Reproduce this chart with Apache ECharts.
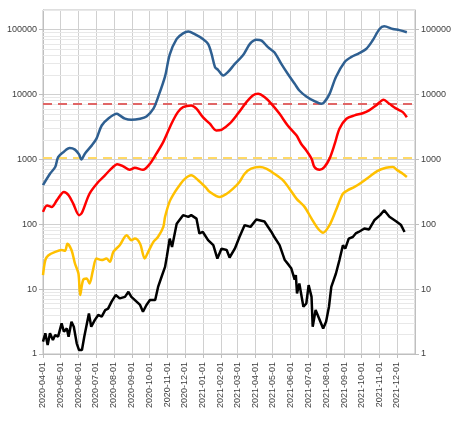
<!DOCTYPE html>
<html>
<head>
<meta charset="utf-8">
<script src="https://cdn.jsdelivr.net/npm/echarts@6/dist/echarts.min.js"></script>
<style>
  html, body { margin: 0; padding: 0; background: #fff; }
  #chart { width: 460px; height: 442px; }
</style>
</head>
<body>
<div id="chart"></div>
<script>
// x range and reference levels
const xMin = '2020-04-01';
const xMax = '2022-01-01';
const redLevel = 7300;
const yellowLevel = 1050;
const decades = [1, 10, 100, 1000, 10000, 100000];
const minorSteps = [2, 3, 4, 5, 6, 7, 8, 9];

// series values
const blue = [
  ['2020-04-01', 400], ['2020-04-13', 600], ['2020-04-22', 760], ['2020-04-27', 1080],
  ['2020-05-06', 1290], ['2020-05-17', 1490], ['2020-05-26', 1410], ['2020-06-02', 1190],
  ['2020-06-06', 990], ['2020-06-12', 1220], ['2020-06-24', 1640], ['2020-07-02', 2080],
  ['2020-07-11', 3320], ['2020-07-22', 4220], ['2020-08-06', 5020], ['2020-08-11', 4750],
  ['2020-08-20', 4230], ['2020-08-31', 4070], ['2020-09-15', 4230], ['2020-09-26', 4580],
  ['2020-10-08', 6030], ['2020-10-16', 9100], ['2020-10-28', 19000], ['2020-11-05', 41000],
  ['2020-11-17', 71600], ['2020-11-28', 87400], ['2020-12-07', 93000], ['2020-12-18', 85000],
  ['2021-01-01', 71600], ['2021-01-10', 60000], ['2021-01-16', 42300], ['2021-01-22', 26300],
  ['2021-01-27', 24000], ['2021-02-05', 19600], ['2021-02-13', 22000], ['2021-02-25', 29500],
  ['2021-03-11', 40000], ['2021-03-23', 60000], ['2021-04-03', 69500], ['2021-04-12', 67500],
  ['2021-04-23', 53500], ['2021-05-04', 44600], ['2021-05-16', 29500], ['2021-05-27', 20800],
  ['2021-06-08', 14600], ['2021-06-16', 11500], ['2021-06-28', 9300], ['2021-07-12', 7880],
  ['2021-07-24', 7160], ['2021-07-29', 7600], ['2021-08-07', 10200], ['2021-08-18', 18600],
  ['2021-09-02', 31600], ['2021-09-13', 37600], ['2021-09-25', 42300], ['2021-10-09', 50200],
  ['2021-10-20', 67600], ['2021-11-01', 102000], ['2021-11-09', 112000], ['2021-11-24', 102000],
  ['2021-12-05', 98000], ['2021-12-18', 91000]
];

const red = [
  ['2020-04-01', 155], ['2020-04-08', 195], ['2020-04-16', 185], ['2020-04-25', 235],
  ['2020-05-07', 314], ['2020-05-15', 280], ['2020-05-23', 208], ['2020-06-02', 138],
  ['2020-06-07', 150], ['2020-06-20', 295], ['2020-07-05', 447], ['2020-07-14', 535],
  ['2020-07-25', 680], ['2020-08-07', 840], ['2020-08-17', 780], ['2020-08-28', 690],
  ['2020-09-06', 740], ['2020-09-20', 690], ['2020-10-02', 855], ['2020-10-13', 1220],
  ['2020-10-25', 1860], ['2020-11-08', 3540], ['2020-11-19', 5340], ['2020-11-28', 6380],
  ['2020-12-12', 6770], ['2020-12-21', 6030], ['2021-01-01', 4460], ['2021-01-13', 3540],
  ['2021-01-24', 2790], ['2021-02-02', 2850], ['2021-02-16', 3540], ['2021-03-02', 5020],
  ['2021-03-17', 7600], ['2021-03-28', 9660], ['2021-04-06', 10200], ['2021-04-17', 9100],
  ['2021-04-29', 7160], ['2021-05-13', 5020], ['2021-05-27', 3320], ['2021-06-11', 2340],
  ['2021-06-19', 1740], ['2021-06-28', 1370], ['2021-07-07', 1025], ['2021-07-12', 760],
  ['2021-07-21', 690], ['2021-07-29', 760], ['2021-08-07', 1025], ['2021-08-16', 1740],
  ['2021-08-24', 2960], ['2021-09-05', 4220], ['2021-09-19', 4750], ['2021-10-03', 5130],
  ['2021-10-14', 5670], ['2021-10-26', 6770], ['2021-11-08', 8260], ['2021-11-18', 7160],
  ['2021-11-30', 6030], ['2021-12-11', 5340], ['2021-12-18', 4460]
];

const yellow = [
  ['2020-04-01', 16.4], ['2020-04-05', 28], ['2020-04-10', 33], ['2020-04-22', 37.5],
  ['2020-05-03', 40], ['2020-05-09', 39], ['2020-05-13', 50], ['2020-05-20', 40],
  ['2020-05-26', 24.8], ['2020-06-01', 17.4], ['2020-06-04', 8.1], ['2020-06-09', 13.8],
  ['2020-06-15', 14.6], ['2020-06-20', 12.2], ['2020-06-26', 19.6], ['2020-07-02', 29.6],
  ['2020-07-11', 28], ['2020-07-19', 29.6], ['2020-07-25', 26.4], ['2020-07-31', 37.5],
  ['2020-08-11', 47.5], ['2020-08-23', 67.6], ['2020-08-31', 56.7], ['2020-09-06', 60],
  ['2020-09-15', 50], ['2020-09-23', 29.6], ['2020-09-29', 37.5], ['2020-10-08', 53.5],
  ['2020-10-16', 64], ['2020-10-25', 91], ['2020-10-28', 130], ['2020-11-05', 225],
  ['2020-11-14', 315], ['2020-11-22', 400], ['2020-12-01', 500], ['2020-12-12', 567],
  ['2020-12-24', 475], ['2021-01-07', 360], ['2021-01-12', 320], ['2021-01-30', 263],
  ['2021-02-11', 295], ['2021-02-22', 353], ['2021-03-05', 447], ['2021-03-14', 600],
  ['2021-03-25', 718], ['2021-04-09', 760], ['2021-04-20', 718], ['2021-05-04', 600],
  ['2021-05-19', 475], ['2021-05-30', 353], ['2021-06-11', 248], ['2021-06-25', 185],
  ['2021-07-07', 122], ['2021-07-18', 86], ['2021-07-27', 74], ['2021-08-07', 97],
  ['2021-08-18', 164], ['2021-08-30', 295], ['2021-09-07', 333], ['2021-09-19', 376],
  ['2021-10-01', 440], ['2021-10-14', 535], ['2021-10-28', 660], ['2021-11-12', 740],
  ['2021-11-24', 760], ['2021-12-02', 675], ['2021-12-11', 600], ['2021-12-18', 535]
];

const black = [
  ['2020-04-01', 1.55], ['2020-04-05', 2.08], ['2020-04-09', 1.37], ['2020-04-13', 2.08],
  ['2020-04-18', 1.64], ['2020-04-22', 1.96], ['2020-04-27', 1.85], ['2020-05-03', 2.96],
  ['2020-05-07', 2.2], ['2020-05-12', 2.48], ['2020-05-15', 1.85], ['2020-05-20', 3.14],
  ['2020-05-24', 2.63], ['2020-05-29', 1.46], ['2020-06-02', 1.15], ['2020-06-07', 1.15],
  ['2020-06-11', 1.85], ['2020-06-19', 4.2], ['2020-06-23', 2.63], ['2020-06-29', 3.33],
  ['2020-07-05', 4.0], ['2020-07-11', 3.76], ['2020-07-17', 4.75], ['2020-07-22', 5.0],
  ['2020-07-28', 6.4], ['2020-08-04', 8.1], ['2020-08-11', 7.2], ['2020-08-20', 7.6],
  ['2020-08-26', 9.1], ['2020-08-31', 7.6], ['2020-09-09', 6.4], ['2020-09-15', 5.7],
  ['2020-09-20', 4.47], ['2020-09-26', 5.7], ['2020-10-02', 6.8], ['2020-10-11', 6.8],
  ['2020-10-16', 10.8], ['2020-10-22', 15.5], ['2020-10-28', 22], ['2020-10-31', 31.5],
  ['2020-11-05', 60], ['2020-11-09', 44.6], ['2020-11-17', 102], ['2020-11-28', 138],
  ['2020-12-07', 130], ['2020-12-12', 138], ['2020-12-21', 122], ['2020-12-26', 72],
  ['2021-01-01', 76], ['2021-01-10', 57], ['2021-01-19', 47.5], ['2021-01-26', 29.6],
  ['2021-02-02', 42], ['2021-02-11', 40], ['2021-02-16', 30.7], ['2021-02-25', 42],
  ['2021-03-05', 63.5], ['2021-03-14', 97], ['2021-03-24', 91], ['2021-04-03', 118],
  ['2021-04-17', 110], ['2021-04-29', 76], ['2021-05-04', 63.5], ['2021-05-13', 47.5],
  ['2021-05-22', 28], ['2021-05-29', 23.4], ['2021-06-02', 21], ['2021-06-08', 14],
  ['2021-06-10', 16.4], ['2021-06-12', 8.6], ['2021-06-16', 12.2], ['2021-06-23', 5.35],
  ['2021-06-28', 6], ['2021-07-02', 11.5], ['2021-07-07', 7.6], ['2021-07-09', 2.63],
  ['2021-07-14', 4.75], ['2021-07-20', 3.53], ['2021-07-27', 2.48], ['2021-08-01', 3.14],
  ['2021-08-06', 5.35], ['2021-08-10', 10.8], ['2021-08-18', 17.4], ['2021-08-24', 28],
  ['2021-08-30', 47.5], ['2021-09-03', 42], ['2021-09-09', 60], ['2021-09-16', 63.5],
  ['2021-09-21', 72], ['2021-09-26', 76], ['2021-10-06', 86], ['2021-10-14', 83],
  ['2021-10-23', 115], ['2021-11-02', 138], ['2021-11-09', 164], ['2021-11-18', 130],
  ['2021-11-30', 110], ['2021-12-08', 97], ['2021-12-14', 76]
];

const FONT = 'Liberation Sans';

// minor log gridlines (2..9 in each decade)
let minorLines = [];
decades.forEach(d => {
  minorSteps.forEach(s => {
    if (d * s <= 200000) minorLines.push({yAxis: d * s});
  });
});

function logAxis(position) {
  return {
    type: 'log',
    logBase: 10,
    min: 1,
    max: 200000,
    position: position,
    axisLine: {show: true, lineStyle: {color: '#bfbfbf'}},
    axisTick: {show: true, length: 4, lineStyle: {color: '#bfbfbf'}},
    axisLabel: {
      color: '#404040', fontSize: 9, fontFamily: FONT, margin: 6,
      showMaxLabel: false,
      formatter: v => String(Math.round(v)),
    },
    splitLine: {show: position === 'left', lineStyle: {color: '#d0d0d0'}},
    minorTick: {show: false},
  };
}

function lineSeries(name, data, color, smooth) {
  return {
    name: name,
    type: 'line',
    data: data,
    showSymbol: false,
    smooth: smooth,
    z: 10,
    lineStyle: {color: color, width: 2.5},
    itemStyle: {color: color},
    animation: false,
  };
}

let chart = echarts.init(document.getElementById('chart'));
let option = {
  backgroundColor: '#fff',
  animation: false,
  grid: {
    left: 43, right: 45, top: 10, bottom: 88,
    show: true, borderColor: '#bfbfbf', borderWidth: 1,
  },
  xAxis: {
    type: 'time',
    min: xMin,
    max: xMax,
    splitNumber: 21,
    minInterval: 28 * 86400000,
    maxInterval: 31 * 86400000,
    axisLine: {show: true, lineStyle: {color: '#bfbfbf'}},
    axisTick: {show: true, length: 4, lineStyle: {color: '#bfbfbf'}},
    axisLabel: {
      formatter: '{yyyy}-{MM}-{dd}',
      rotate: 90,
      color: '#404040', fontSize: 9, fontFamily: FONT, margin: 8,
      showMaxLabel: false, hideOverlap: false,
    },
    splitLine: {show: true, lineStyle: {color: '#d0d0d0'}},
  },
  yAxis: [logAxis('left'), logAxis('right')],
  series: [
    {
      type: 'line',
      data: [],
      z: 1,
      silent: true,
      markLine: {
        silent: true,
        z: 1,
        symbol: 'none',
        label: {show: false},
        animation: false,
        lineStyle: {color: '#e8e8e8', width: 1, type: 'solid'},
        data: minorLines,
      },
    },
    {
      type: 'line',
      data: [],
      z: 2,
      silent: true,
      markLine: {
        silent: true,
        z: 2,
        symbol: 'none',
        label: {show: false},
        animation: false,
        data: [
          {yAxis: redLevel, lineStyle: {color: '#e06666', width: 2, type: [9, 6]}},
          {yAxis: yellowLevel, lineStyle: {color: '#ffd966', width: 2, type: [9, 6]}},
        ],
      },
    },
    lineSeries('blue', blue, '#2e5f91', 0.3),
    lineSeries('red', red, '#ff0000', 0.3),
    lineSeries('yellow', yellow, '#ffc000', 0.3),
    lineSeries('black', black, '#000000', false),
  ],
};
chart.setOption(option);
</script>
</body>
</html>
